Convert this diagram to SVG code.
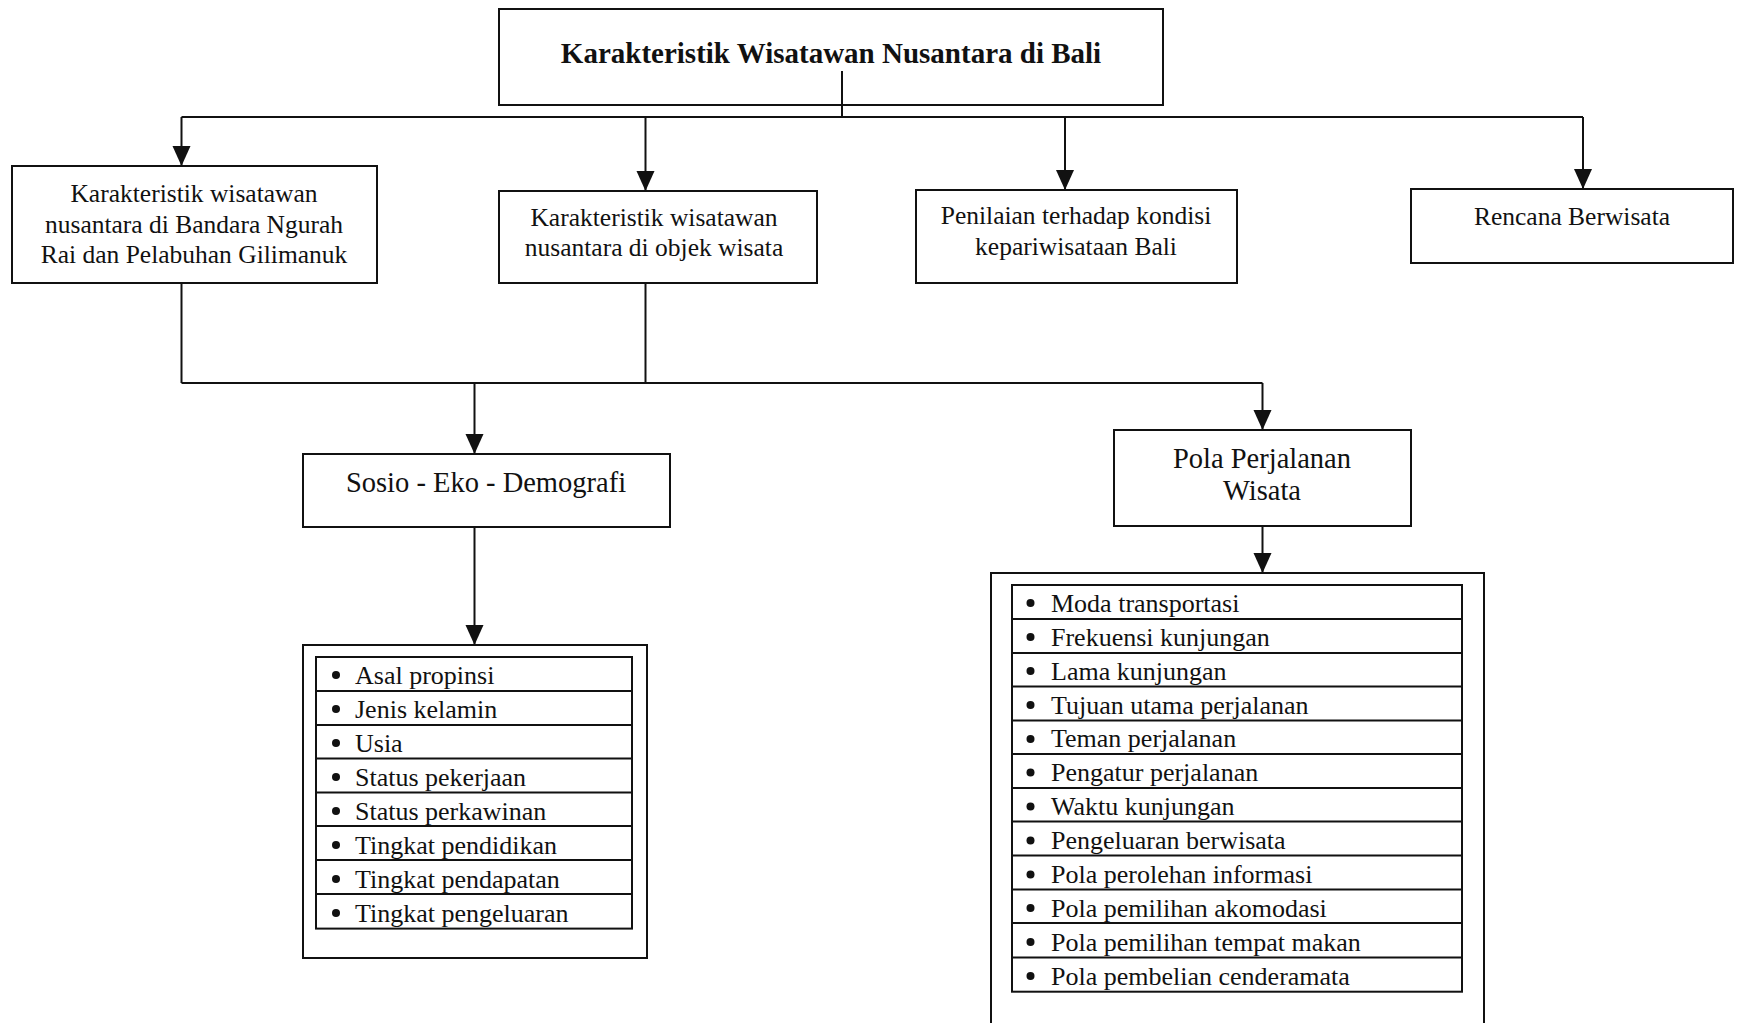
<svg xmlns="http://www.w3.org/2000/svg" width="1740" height="1023" viewBox="0 0 1740 1023">
  <style>
    .box { fill: #fff; stroke: #111; stroke-width: 2; }
    .row { fill: none; stroke: #111; stroke-width: 2; }
    .wire { fill: none; stroke: #111; stroke-width: 2; }
    text { font-family: "Liberation Serif", "Times New Roman", serif; fill: #111; }
    .title { font-size: 29px; font-weight: bold; text-anchor: middle; }
    .lbl { font-size: 25.5px; text-anchor: middle; }
    .big { font-size: 28.5px; text-anchor: middle; }
    .item { font-size: 26px; }
    .dot { fill: #111; }
  </style>
  <defs>
    <marker id="arrow" markerUnits="userSpaceOnUse" markerWidth="22" markerHeight="20" viewBox="0 -10 20 20" refX="20" refY="0" orient="auto">
      <path d="M0,-9 L20,0 L0,9 Z" fill="#111"/>
    </marker>
  </defs>
  <rect width="1740" height="1023" fill="#fff"/>

  <!-- top node -->
  <g id="n-root">
    <rect class="box" x="499" y="9" width="664" height="96"/>
    <text class="title" x="831" y="63">Karakteristik Wisatawan Nusantara di Bali</text>
  </g>

  <!-- second level -->
  <g id="n-bandara">
    <rect class="box" x="12" y="166" width="365" height="117"/>
    <text class="lbl" x="194" y="202">Karakteristik wisatawan</text>
    <text class="lbl" x="194" y="233">nusantara di Bandara Ngurah</text>
    <text class="lbl" x="194" y="263">Rai dan Pelabuhan Gilimanuk</text>
  </g>
  <g id="n-objek">
    <rect class="box" x="499" y="191" width="318" height="92"/>
    <text class="lbl" x="654" y="226">Karakteristik wisatawan</text>
    <text class="lbl" x="654" y="256">nusantara di objek wisata</text>
  </g>
  <g id="n-penilaian">
    <rect class="box" x="916" y="190" width="321" height="93"/>
    <text class="lbl" x="1076" y="224">Penilaian terhadap kondisi</text>
    <text class="lbl" x="1076" y="255">kepariwisataan Bali</text>
  </g>
  <g id="n-rencana">
    <rect class="box" x="1411" y="189" width="322" height="74"/>
    <text class="lbl" x="1572" y="225">Rencana Berwisata</text>
  </g>

  <!-- third level -->
  <g id="n-sosio">
    <rect class="box" x="303" y="454" width="367" height="73"/>
    <text class="big" x="486" y="492">Sosio - Eko - Demografi</text>
  </g>
  <g id="n-pola">
    <rect class="box" x="1114" y="430" width="297" height="96"/>
    <text class="big" x="1262" y="468">Pola Perjalanan</text>
    <text class="big" x="1262" y="500">Wisata</text>
  </g>

  <!-- socio-economic-demographic list -->
  <g id="n-sosio-list">
    <rect class="box" x="303" y="645" width="344" height="313"/>
    <rect class="row" x="316" y="657" width="316" height="271.6"/>
    <g class="row">
      <line x1="316" y1="691" x2="632" y2="691"/>
      <line x1="316" y1="725" x2="632" y2="725"/>
      <line x1="316" y1="758.5" x2="632" y2="758.5"/>
      <line x1="316" y1="792.5" x2="632" y2="792.5"/>
      <line x1="316" y1="826" x2="632" y2="826"/>
      <line x1="316" y1="860" x2="632" y2="860"/>
      <line x1="316" y1="894" x2="632" y2="894"/>
    </g>
    <g class="dot">
      <circle cx="336" cy="675" r="4"/>
      <circle cx="336" cy="709" r="4"/>
      <circle cx="336" cy="743" r="4"/>
      <circle cx="336" cy="777" r="4"/>
      <circle cx="336" cy="811" r="4"/>
      <circle cx="336" cy="845" r="4"/>
      <circle cx="336" cy="879" r="4"/>
      <circle cx="336" cy="913" r="4"/>
    </g>
    <text class="item" x="355" y="683.5">Asal propinsi</text>
    <text class="item" x="355" y="717.5">Jenis kelamin</text>
    <text class="item" x="355" y="751.5">Usia</text>
    <text class="item" x="355" y="785.5">Status pekerjaan</text>
    <text class="item" x="355" y="819.5">Status perkawinan</text>
    <text class="item" x="355" y="853.5">Tingkat pendidikan</text>
    <text class="item" x="355" y="887.5">Tingkat pendapatan</text>
    <text class="item" x="355" y="921.5">Tingkat pengeluaran</text>
  </g>

  <!-- travel pattern list -->
  <g id="n-pola-list">
    <rect class="box" x="991" y="573" width="493" height="470"/>
    <rect class="row" x="1012" y="585" width="450" height="406.7"/>
    <g class="row">
      <line x1="1012" y1="619" x2="1462" y2="619"/>
      <line x1="1012" y1="653" x2="1462" y2="653"/>
      <line x1="1012" y1="686.5" x2="1462" y2="686.5"/>
      <line x1="1012" y1="720.5" x2="1462" y2="720.5"/>
      <line x1="1012" y1="754" x2="1462" y2="754"/>
      <line x1="1012" y1="788" x2="1462" y2="788"/>
      <line x1="1012" y1="821.5" x2="1462" y2="821.5"/>
      <line x1="1012" y1="855.5" x2="1462" y2="855.5"/>
      <line x1="1012" y1="889.5" x2="1462" y2="889.5"/>
      <line x1="1012" y1="923" x2="1462" y2="923"/>
      <line x1="1012" y1="957.5" x2="1462" y2="957.5"/>
    </g>
    <g class="dot">
      <circle cx="1030.5" cy="603" r="4"/>
      <circle cx="1030.5" cy="637" r="4"/>
      <circle cx="1030.5" cy="671" r="4"/>
      <circle cx="1030.5" cy="705" r="4"/>
      <circle cx="1030.5" cy="739" r="4"/>
      <circle cx="1030.5" cy="772.5" r="4"/>
      <circle cx="1030.5" cy="806.5" r="4"/>
      <circle cx="1030.5" cy="840.5" r="4"/>
      <circle cx="1030.5" cy="874.5" r="4"/>
      <circle cx="1030.5" cy="908" r="4"/>
      <circle cx="1030.5" cy="942" r="4"/>
      <circle cx="1030.5" cy="976" r="4"/>
    </g>
    <text class="item" x="1051" y="611.5">Moda transportasi</text>
    <text class="item" x="1051" y="645.5">Frekuensi kunjungan</text>
    <text class="item" x="1051" y="679.5">Lama kunjungan</text>
    <text class="item" x="1051" y="713.5">Tujuan utama perjalanan</text>
    <text class="item" x="1051" y="747">Teman perjalanan</text>
    <text class="item" x="1051" y="781">Pengatur perjalanan</text>
    <text class="item" x="1051" y="815">Waktu kunjungan</text>
    <text class="item" x="1051" y="849">Pengeluaran berwisata</text>
    <text class="item" x="1051" y="883">Pola perolehan informasi</text>
    <text class="item" x="1051" y="916.5">Pola pemilihan akomodasi</text>
    <text class="item" x="1051" y="950.5">Pola pemilihan tempat makan</text>
    <text class="item" x="1051" y="984.5">Pola pembelian cenderamata</text>
  </g>

  <!-- connectors -->
  <g id="connectors" class="wire">
    <line x1="842" y1="71" x2="842" y2="117"/>
    <line x1="181.5" y1="117" x2="1583" y2="117"/>
    <line x1="181.5" y1="117" x2="181.5" y2="166" marker-end="url(#arrow)"/>
    <line x1="645.5" y1="117" x2="645.5" y2="191" marker-end="url(#arrow)"/>
    <line x1="1065" y1="117" x2="1065" y2="190" marker-end="url(#arrow)"/>
    <line x1="1583" y1="117" x2="1583" y2="189" marker-end="url(#arrow)"/>

    <line x1="181.5" y1="283" x2="181.5" y2="383"/>
    <line x1="645.5" y1="283" x2="645.5" y2="383"/>
    <line x1="181.5" y1="383" x2="1262.5" y2="383"/>
    <line x1="474.5" y1="383" x2="474.5" y2="454" marker-end="url(#arrow)"/>
    <line x1="1262.5" y1="383" x2="1262.5" y2="430" marker-end="url(#arrow)"/>

    <line x1="474.5" y1="527" x2="474.5" y2="645" marker-end="url(#arrow)"/>
    <line x1="1262.5" y1="526" x2="1262.5" y2="573" marker-end="url(#arrow)"/>
  </g>
</svg>
